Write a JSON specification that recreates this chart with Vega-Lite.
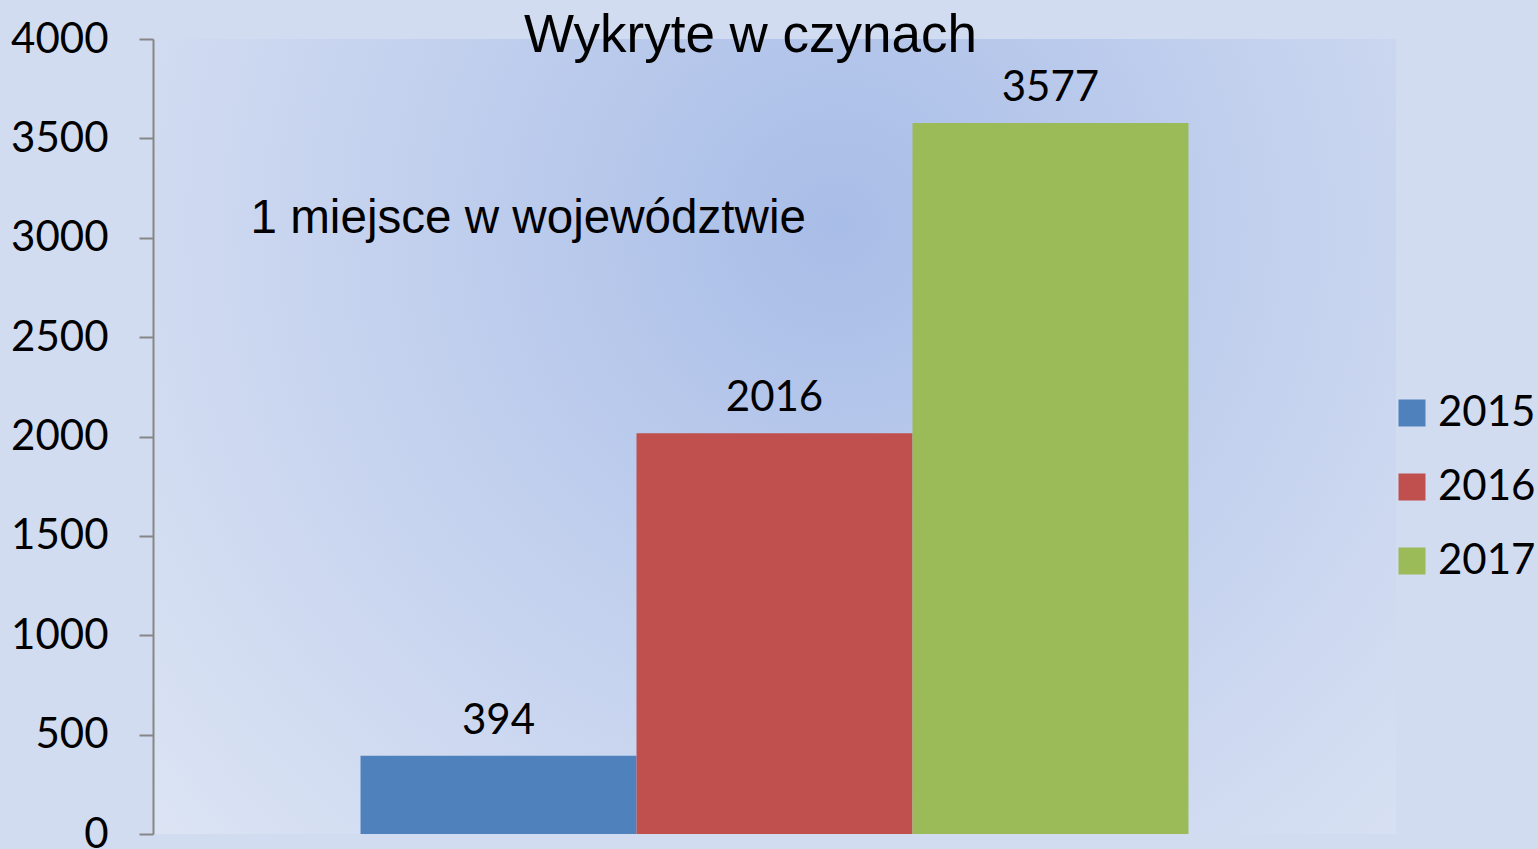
{
  "$schema": "https://vega.github.io/schema/vega-lite/v6.json",
  "autosize": {"type": "none"},
  "padding": {"left": 153, "top": 39, "right": 142, "bottom": 15},
  "width": 1243,
  "height": 795,
  "background": "#d2dcf1",
  "config": {
    "view": {
      "stroke": null,
      "fill": {
        "gradient": "radial",
        "x1": 0.55, "y1": 0.33, "r1": 0,
        "x2": 0.55, "y2": 0.33, "r2": 0.75,
        "stops": [
          {"offset": 0, "color": "#a8bde7"},
          {"offset": 0.45, "color": "#c2d0ee"},
          {"offset": 1, "color": "#dde5f4"}
        ]
      }
    }
  },
  "layer": [
    {
      "data": {
        "values": [
          {"year": "2015", "value": 394},
          {"year": "2016", "value": 2016},
          {"year": "2017", "value": 3577}
        ]
      },
      "layer": [
        {
          "mark": {"type": "bar"},
          "encoding": {
            "x": {
              "field": "year", "type": "nominal",
              "scale": {"paddingInner": 0, "paddingOuter": 0.752},
              "axis": null
            },
            "y": {
              "field": "value", "type": "quantitative",
              "scale": {"domain": [0, 4000], "nice": false},
              "axis": {
                "values": [0, 500, 1000, 1500, 2000, 2500, 3000, 3500, 4000],
                "format": "d",
                "title": null,
                "grid": false,
                "domainColor": "#868686",
                "domainWidth": 2,
                "tickColor": "#868686",
                "tickWidth": 2,
                "tickSize": 14,
                "labelPadding": 31,
                "labelFont": "Lato",
                "labelFontSize": 42,
                "labelColor": "#000000",
                "labelOverlap": false,
                "labelBound": false,
                "labelFlush": false
              }
            },
            "color": {
              "field": "year", "type": "nominal",
              "scale": {"range": ["#4f81bd", "#c0504d", "#9bbb59"]},
              "legend": {
                "title": null,
                "orient": "none",
                "legendX": 1238,
                "legendY": 353,
                "padding": 0,
                "symbolType": "square",
                "symbolSize": 729,
                "symbolStrokeWidth": 0,
                "symbolOpacity": 1,
                "labelFont": "Lato",
                "labelFontSize": 42,
                "labelColor": "#000000",
                "labelOffset": 5,
                "rowPadding": 32
              }
            }
          }
        },
        {
          "mark": {"type": "text", "font": "Lato", "fontSize": 42, "color": "#000000", "baseline": "alphabetic", "dy": -22},
          "encoding": {
            "x": {"field": "year", "type": "nominal"},
            "y": {"field": "value", "type": "quantitative"},
            "text": {"field": "value", "type": "quantitative"}
          }
        }
      ]
    },
    {
      "data": {"values": [{"label": "1 miejsce w województwie", "year": "2015", "value": 3026}]},
      "mark": {"type": "text", "font": "Liberation Sans", "fontSize": 47.6, "color": "#000000", "align": "left", "baseline": "alphabetic", "dx": -248},
      "encoding": {
        "x": {"field": "year", "type": "nominal"},
        "y": {"field": "value", "type": "quantitative"},
        "text": {"field": "label"}
      }
    },
    {
      "data": {"values": [{"label": "Wykryte w czynach", "year": "2016", "value": 3937}]},
      "mark": {"type": "text", "font": "Liberation Sans", "fontSize": 53, "color": "#000000", "align": "center", "baseline": "alphabetic", "dx": -24},
      "encoding": {
        "x": {"field": "year", "type": "nominal"},
        "y": {"field": "value", "type": "quantitative"},
        "text": {"field": "label"}
      }
    }
  ]
}
